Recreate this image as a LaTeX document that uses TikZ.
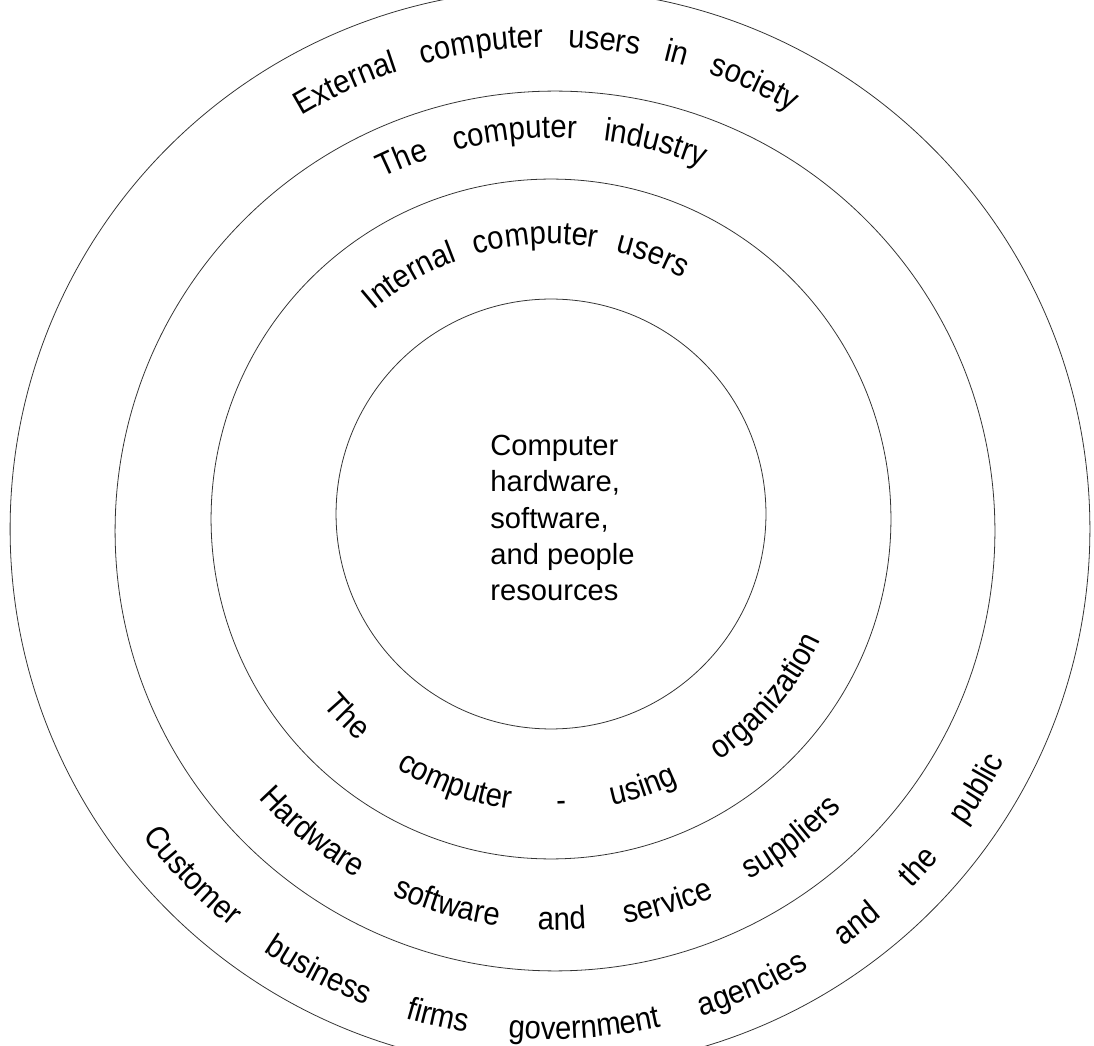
\documentclass[tikz,border=0pt]{standalone}
\usepackage{fontspec}
\setmainfont{Liberation Sans}
\newfontfamily\ringfamily[FakeStretch=0.9]{Liberation Sans}
\usetikzlibrary{decorations.text}
\newcommand{\ringfont}{\ringfamily\fontsize{18.5}{22}\selectfont}

\begin{document}
\begin{tikzpicture}[x=0.02cm,y=0.02cm,
    ring/.style={circle, draw=black!80, line width=0.45pt, inner sep=0pt},
    ring text/.style={decorate, decoration={text along path, text align={fit to path stretching spaces}, text={|\ringfont|#1}}}]

    \useasboundingbox (0,0) rectangle (1094,1045);
    \clip (0,0) rectangle (1094,1045);

    \node[ring, minimum size=21.6cm] (society) at (550,516) {};
    \node[ring, minimum size=17.6cm] (industry) at (555,514) {};
    \node[ring, minimum size=13.6cm] (organization) at (551,526) {};
    \node[ring, minimum size=8.6cm] (resources) at (551,531) {};

    \node[align=left, anchor=north west, inner sep=0pt, font=\fontsize{16.6}{20.6}\selectfont] (core) at (490,610)
        {Computer\\hardware,\\software,\\and people\\resources};

    \path[ring text={External computer users in society}]
        (society.center) ++(121:482) arc[start angle=121, end angle=60, radius=482];
    \path[ring text={The computer industry}]
        (industry.center) ++(116:393) arc[start angle=116, end angle=68, radius=393];
    \path[ring text={Internal computer users}]
        (resources.center) ++(131:270) arc[start angle=131, end angle=61, radius=270];
    \path[ring text={The computer - using organization}]
        (resources.center) ++(220:298) arc[start angle=220, end angle=335, radius=298];
    \path[ring text={Hardware software and service suppliers}]
        (industry.center) ++(222:399) arc[start angle=222, end angle=316, radius=399];
    \path[ring text={Customer business firms government agencies and the public}]
        (society.center) ++(217:510) arc[start angle=217, end angle=333, radius=510];
\end{tikzpicture}
\end{document}
